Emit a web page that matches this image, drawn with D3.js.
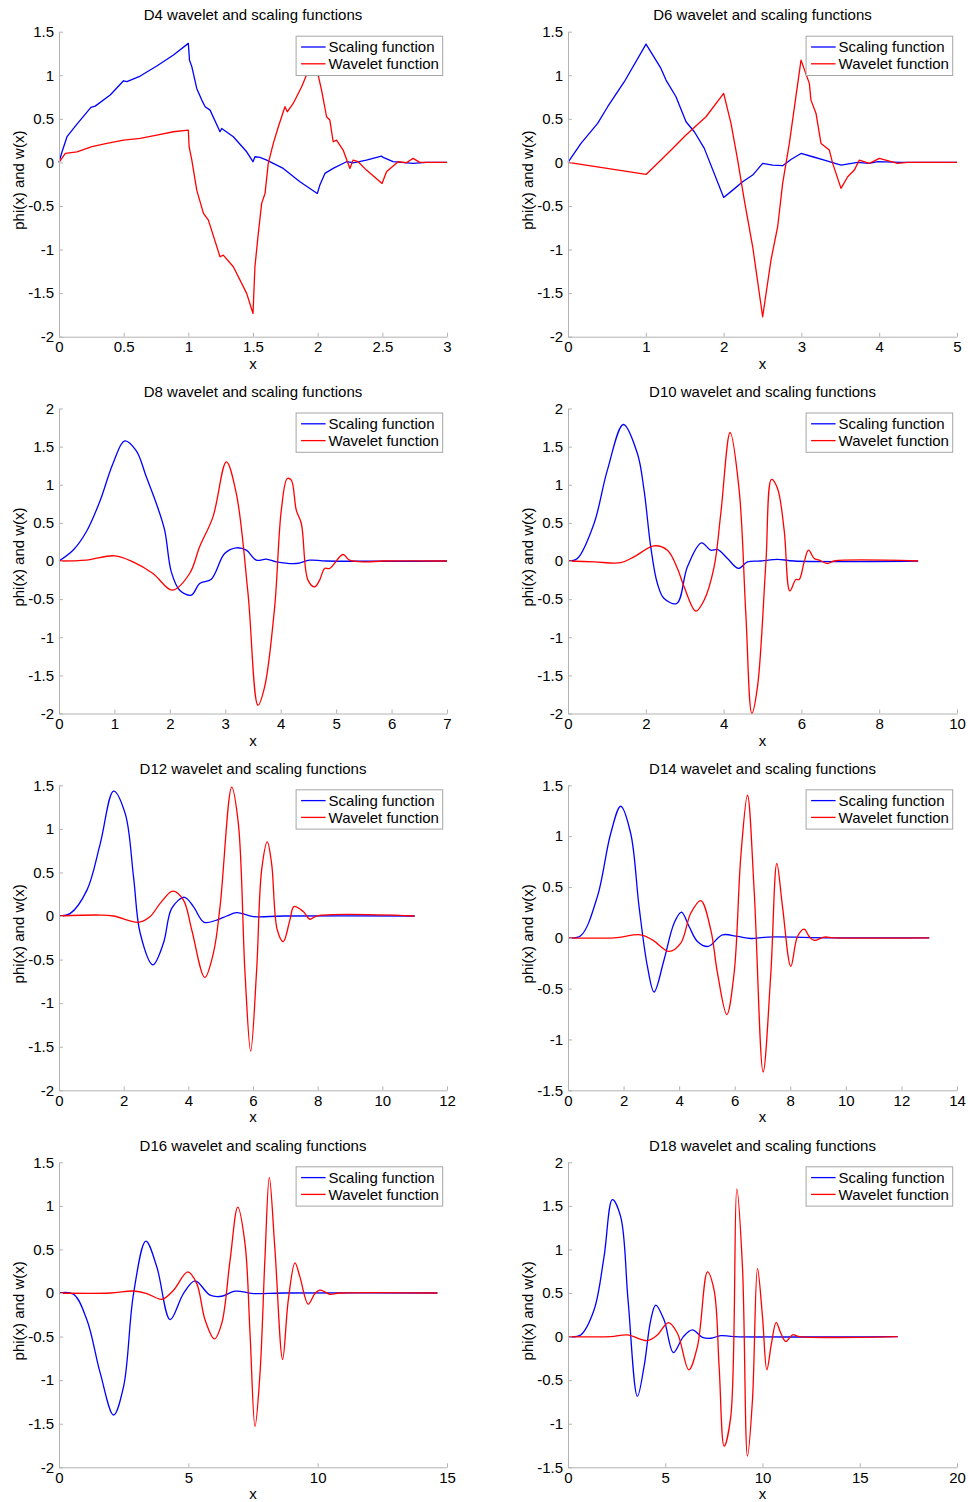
<!DOCTYPE html>
<html>
<head>
<meta charset="utf-8">
<script src="https://cdn.jsdelivr.net/npm/d3@7"></script>
<style>
  html, body { margin: 0; padding: 0; background: #fff; }
  svg { display: block; }
  text { font-family: "Liberation Sans", Arial, sans-serif; fill: #000; }
</style>
</head>
<body>
<svg id="chart" width="968" height="1502"></svg>
<script>
// Daubechies scaling (phi) and wavelet (w) functions, sampled as [x, value] pairs.

const d4Scaling = [[0,0],[0.023,0.12],[0.062,0.295],[0.139,0.44],[0.247,0.631],[0.28,0.646],[0.396,0.773],[0.499,0.937],[0.525,0.926],[0.628,0.991],[0.756,1.106],[0.885,1.232],[1.0,1.366],[1.009,1.174],[1.027,1.098],[1.065,0.849],[1.104,0.715],[1.13,0.639],[1.168,0.6],[1.245,0.352],[1.258,0.39],[1.348,0.295],[1.451,0.122],[1.5,0.008],[1.515,0.065],[1.554,0.057],[1.606,0.027],[1.734,-0.069],[1.863,-0.222],[1.997,-0.356],[2.017,-0.26],[2.056,-0.126],[2.12,-0.069],[2.223,0.008],[2.274,-0.004],[2.377,0.027],[2.493,0.073],[2.506,0.057],[2.583,0.008],[2.738,-0.011],[2.84,0],[3,0]];
const d4Wavelet = [[0,0],[0.049,0.103],[0.139,0.122],[0.255,0.18],[0.37,0.218],[0.499,0.256],[0.628,0.275],[0.756,0.314],[0.885,0.352],[1.0,0.371],[1.006,0.18],[1.027,0.027],[1.065,-0.318],[1.117,-0.585],[1.155,-0.662],[1.245,-1.083],[1.27,-1.064],[1.348,-1.197],[1.451,-1.503],[1.5,-1.733],[1.515,-1.197],[1.541,-0.815],[1.567,-0.47],[1.593,-0.356],[1.618,-0.011],[1.657,0.218],[1.696,0.409],[1.747,0.639],[1.765,0.581],[1.811,0.677],[1.876,0.868],[1.914,1.002],[1.99,1.366],[2.004,1.002],[2.03,0.83],[2.069,0.524],[2.094,0.486],[2.12,0.237],[2.146,0.256],[2.197,0.142],[2.249,-0.069],[2.274,0.027],[2.313,0.008],[2.377,-0.088],[2.498,-0.241],[2.532,-0.107],[2.622,0.008],[2.686,-0.004],[2.738,0.046],[2.789,0],[3,0]];

const d6Scaling = [[0,0],[0.167,0.218],[0.381,0.448],[0.51,0.639],[0.724,0.926],[1.003,1.358],[1.195,1.079],[1.26,0.945],[1.388,0.754],[1.517,0.467],[1.624,0.352],[1.752,0.161],[2.001,-0.402],[2.117,-0.318],[2.245,-0.222],[2.374,-0.145],[2.502,-0.011],[2.631,-0.031],[2.759,-0.038],[2.866,0.034],[2.995,0.103],[3.145,0.065],[3.295,0.027],[3.509,-0.031],[3.723,0],[3.873,-0.011],[3.98,0.008],[4.28,0],[5,0]];
const d6Wavelet = [[0,0],[1.003,-0.138],[1.195,0.027],[1.367,0.18],[1.517,0.314],[1.774,0.524],[2.001,0.792],[2.095,0.448],[2.181,0.027],[2.266,-0.432],[2.374,-0.968],[2.502,-1.771],[2.609,-1.121],[2.695,-0.738],[2.759,-0.241],[2.845,0.218],[2.995,1.174],[3.102,0.907],[3.123,0.715],[3.188,0.562],[3.252,0.218],[3.359,0.142],[3.402,-0.011],[3.509,-0.298],[3.595,-0.164],[3.68,-0.088],[3.745,0.027],[3.873,-0.011],[4.002,0.046],[4.237,-0.011],[4.366,0],[5,0]];

const d8Scaling = [[0,0],[0.253,0.14],[0.493,0.383],[0.734,0.776],[0.974,1.279],[1.185,1.576],[1.395,1.445],[1.575,1.104],[1.756,0.754],[1.906,0.404],[2.026,-0.142],[2.177,-0.383],[2.387,-0.448],[2.537,-0.295],[2.748,-0.238],[2.988,0.098],[3.199,0.173],[3.379,0.142],[3.56,0.011],[3.74,0.024],[3.92,-0.011],[4.281,-0.033],[4.522,0.011],[4.823,0],[7,0]];
const d8Wavelet = [[0,0],[0.493,0.011],[1.004,0.068],[1.335,-0.011],[1.696,-0.164],[2.045,-0.383],[2.357,-0.164],[2.537,0.186],[2.778,0.579],[3.019,1.301],[3.199,0.885],[3.41,-0.426],[3.59,-1.891],[3.71,-1.65],[3.891,-0.601],[4.011,0.667],[4.119,1.082],[4.191,1.06],[4.281,0.667],[4.372,0.492],[4.492,-0.251],[4.612,-0.339],[4.702,-0.251],[4.792,-0.098],[4.883,-0.098],[5.123,0.085],[5.243,0.011],[5.544,-0.011],[5.845,0],[7,0]];

const d10Scaling = [[0,0],[0.24,0.033],[0.669,0.492],[1.012,1.191],[1.424,1.79],[1.784,1.41],[1.955,0.929],[2.127,0.186],[2.298,-0.295],[2.47,-0.492],[2.796,-0.557],[3.07,-0.076],[3.43,0.238],[3.671,0.142],[3.842,0.151],[4.1,0.033],[4.383,-0.098],[4.614,-0.011],[4.957,0],[5.386,0.022],[5.815,0],[9,0]];
const d10Wavelet = [[0,0],[0.669,-0.011],[1.355,-0.022],[1.698,0.055],[2.213,0.199],[2.556,0.142],[2.813,-0.098],[2.985,-0.339],[3.285,-0.658],[3.499,-0.514],[3.756,-0.077],[3.928,0.623],[4.168,1.685],[4.4,0.929],[4.571,-0.689],[4.726,-2.0],[4.871,-1.65],[5.086,-0.033],[5.232,1.069],[5.386,0.951],[5.557,0.404],[5.703,-0.393],[5.858,-0.243],[5.943,-0.243],[6.072,-0.011],[6.183,0.142],[6.329,0.033],[6.458,0.011],[6.672,-0.033],[6.844,0],[9,0]];

const d12Scaling = [[0,0],[0.35,0.03],[0.864,0.297],[1.276,0.831],[1.688,1.434],[2.048,1.175],[2.305,0.45],[2.511,-0.198],[2.902,-0.56],[3.231,-0.31],[3.489,0.09],[3.88,0.215],[4.158,0.108],[4.487,-0.072],[4.878,-0.046],[5.187,0],[5.496,0.038],[6.01,-0.006],[6.936,0],[11,0]];
const d12Wavelet = [[0,0],[1.276,0.011],[1.688,0],[2.46,-0.072],[2.82,-0.006],[3.128,0.145],[3.52,0.286],[3.849,0.183],[4.106,-0.16],[4.508,-0.705],[4.775,-0.426],[4.981,0.107],[5.341,1.479],[5.547,1.06],[5.753,-0.656],[5.928,-1.55],[6.113,-0.617],[6.267,0.526],[6.442,0.85],[6.576,0.602],[6.751,-0.16],[6.936,-0.293],[7.142,-0.044],[7.266,0.108],[7.554,0.051],[7.76,-0.037],[7.965,0],[11,0]];

const d14Scaling = [[0,0],[0.456,0.02],[1.057,0.405],[1.537,1.026],[1.897,1.294],[2.257,1.026],[2.557,0.307],[2.858,-0.281],[3.098,-0.533],[3.458,-0.216],[3.818,0.144],[4.082,0.252],[4.358,0.111],[4.658,-0.036],[5.043,-0.085],[5.559,0.029],[6.099,0.013],[6.58,-0.007],[7.18,0.007],[9.46,0],[13,0]];
const d14Wavelet = [[0,0],[1.657,0],[2.617,0.029],[3.038,-0.02],[3.638,-0.134],[4.058,-0.052],[4.418,0.242],[4.778,0.366],[5.139,0.078],[5.379,-0.346],[5.715,-0.755],[5.979,-0.346],[6.219,0.797],[6.459,1.402],[6.699,0.471],[7.023,-1.32],[7.3,-0.346],[7.516,0.732],[7.72,0.307],[8.02,-0.281],[8.26,0.013],[8.5,0.085],[8.68,0.013],[8.86,-0.026],[9.22,0.007],[9.58,0],[13,0]];

const d16Scaling = [[0,0],[0.566,-0.015],[1.081,-0.31],[1.595,-0.92],[2.11,-1.4],[2.496,-1.075],[2.882,-0.006],[3.358,0.596],[3.782,0.299],[4.297,-0.305],[4.811,-0.006],[5.262,0.139],[5.841,-0.025],[6.291,-0.037],[6.806,0.021],[7.513,-0.006],[8.671,0],[14.63,0]];
const d16Wavelet = [[0,0],[1.98,0],[2.882,0.023],[3.396,-0.006],[3.975,-0.072],[4.426,0.032],[4.979,0.242],[5.326,0.108],[5.648,-0.31],[6.008,-0.527],[6.291,-0.348],[6.613,0.375],[6.909,0.985],[7.192,0.564],[7.385,-0.464],[7.578,-1.532],[7.771,-0.921],[7.964,0.413],[8.131,1.327],[8.35,0.49],[8.645,-0.761],[8.864,-0.082],[9.122,0.345],[9.314,0.185],[9.636,-0.128],[9.893,-0.006],[10.086,0.032],[10.279,0.013],[10.47,-0.014],[10.86,0],[14.63,0]];

const d18Scaling = [[0,0],[0.652,0.019],[1.338,0.305],[1.852,0.915],[2.281,1.571],[2.71,1.373],[3.087,0.42],[3.568,-0.686],[3.911,-0.343],[4.254,0.19],[4.511,0.362],[4.94,0.19],[5.42,-0.183],[5.935,0],[6.398,0.076],[6.913,-0.008],[7.341,-0.019],[7.856,0.011],[8.542,0],[16.95,0]];
const d18Wavelet = [[0,0],[2.196,0],[3.053,0.019],[4.082,-0.046],[4.597,0.019],[5.163,0.16],[5.626,0.038],[6.209,-0.381],[6.655,-0.114],[7.17,0.743],[7.513,0.53],[7.77,-0.343],[8.027,-1.258],[8.37,-0.915],[8.679,1.693],[8.97,0.8],[9.228,-1.372],[9.485,-0.724],[9.743,0.781],[10.0,0.227],[10.223,-0.381],[10.463,-0.076],[10.703,0.164],[10.943,0.038],[11.2,-0.057],[11.544,0.021],[11.887,0],[16.95,0]];

// Axis ranges and tick labels for each panel
const titles = ["D4", "D6", "D8", "D10", "D12", "D14", "D16", "D18"];
const xDomains = [[0, 3], [0, 5], [0, 7], [0, 10], [0, 12], [0, 14], [0, 15], [0, 20]];
const yDomains = [[-2, 1.5], [-2, 1.5], [-2, 2], [-2, 2], [-2, 1.5], [-1.5, 1.5], [-2, 1.5], [-1.5, 2]];
const xTicks = [
  [0, 0.5, 1, 1.5, 2, 2.5, 3],
  [0, 1, 2, 3, 4, 5],
  [0, 1, 2, 3, 4, 5, 6, 7],
  [0, 2, 4, 6, 8, 10],
  [0, 2, 4, 6, 8, 10, 12],
  [0, 2, 4, 6, 8, 10, 12, 14],
  [0, 5, 10, 15],
  [0, 5, 10, 15, 20]
];
const yTicks = [
  [-2, -1.5, -1, -0.5, 0, 0.5, 1, 1.5],
  [-2, -1.5, -1, -0.5, 0, 0.5, 1, 1.5],
  [-2, -1.5, -1, -0.5, 0, 0.5, 1, 1.5, 2],
  [-2, -1.5, -1, -0.5, 0, 0.5, 1, 1.5, 2],
  [-2, -1.5, -1, -0.5, 0, 0.5, 1, 1.5],
  [-1.5, -1, -0.5, 0, 0.5, 1, 1.5],
  [-2, -1.5, -1, -0.5, 0, 0.5, 1, 1.5],
  [-1.5, -1, -0.5, 0, 0.5, 1, 1.5, 2]
];
const scalingSeries = [d4Scaling, d6Scaling, d8Scaling, d10Scaling, d12Scaling, d14Scaling, d16Scaling, d18Scaling];
const waveletSeries = [d4Wavelet, d6Wavelet, d8Wavelet, d10Wavelet, d12Wavelet, d14Wavelet, d16Wavelet, d18Wavelet];
const legendLabels = ["Scaling function", "Wavelet function"];
const seriesColors = ["#0000ff", "#ff0000"];

const svg = d3.select("#chart");
const fmt = d => String(d);

const colLeft = [59, 568];
const plotW = [388, 389];
const rowTop = [31.7, 408.5, 785.3, 1162.3];
const plotH = 305;
const axisGray = "#b3b3b3";

titles.forEach((name, i) => {
  const col = i % 2, row = Math.floor(i / 2);
  const left = colLeft[col], top = rowTop[row];
  const w = plotW[col], h = plotH;

  const x = d3.scaleLinear().domain(xDomains[i]).range([0, w]);
  const y = d3.scaleLinear().domain(yDomains[i]).range([h, 0]);

  const g = svg.append("g").attr("transform", `translate(${left},${top})`);

  // curves: jagged D4/D6 drawn straight between samples, the rest smoothed
  const curve = i < 2 ? d3.curveLinear : d3.curveCatmullRom.alpha(0.5);
  const line = d3.line().x(d => x(d[0])).y(d => y(d[1])).curve(curve);

  [scalingSeries[i], waveletSeries[i]].forEach((data, k) => {
    g.append("path")
      .datum(data)
      .attr("d", line)
      .attr("fill", "none")
      .attr("stroke", seriesColors[k])
      .attr("stroke-width", 1.3)
      .attr("stroke-linejoin", "round");
  });

  // axes with inward ticks
  const xAxis = d3.axisBottom(x).tickValues(xTicks[i]).tickFormat(fmt).tickSizeInner(-4).tickSizeOuter(0).tickPadding(5);
  const yAxis = d3.axisLeft(y).tickValues(yTicks[i]).tickFormat(fmt).tickSizeInner(-4).tickSizeOuter(0).tickPadding(5);

  const gx = g.append("g").attr("transform", `translate(0,${h})`).call(xAxis);
  const gy = g.append("g").call(yAxis);
  [gx, gy].forEach(a => {
    a.select(".domain").attr("stroke", axisGray);
    a.selectAll(".tick line").attr("stroke", axisGray);
    a.selectAll(".tick text").attr("fill", "#000").style("font-size", "15px")
      .style("font-family", '"Liberation Sans", Arial, sans-serif');
  });
  gx.selectAll(".tick text").attr("dy", "0.71em");

  // title and axis labels
  g.append("text").attr("x", w / 2).attr("y", -11.5)
    .attr("text-anchor", "middle").style("font-size", "15px")
    .text(`${name} wavelet and scaling functions`);
  g.append("text").attr("x", w / 2).attr("y", h + 32)
    .attr("text-anchor", "middle").style("font-size", "15px").text("x");
  g.append("text")
    .attr("transform", `translate(-35.5,${h / 2 - 4}) rotate(-90)`)
    .attr("text-anchor", "middle").style("font-size", "15px")
    .text("phi(x) and w(x)");

  // legend box in the upper right corner
  const lw = 146.6, lh = 39.3;
  const lg = g.append("g").attr("transform", `translate(${w - 4.3 - lw},4.5)`);
  lg.append("rect").attr("width", lw).attr("height", lh)
    .attr("fill", "#fff").attr("stroke", "#a6a6a6").attr("stroke-width", 1);
  legendLabels.forEach((lab, k) => {
    const yy = 10.8 + k * 16.8;
    lg.append("line").attr("x1", 5).attr("x2", 29.5).attr("y1", yy).attr("y2", yy)
      .attr("stroke", seriesColors[k]).attr("stroke-width", 1.3);
    lg.append("text").attr("x", 32.5).attr("y", yy + 5.3)
      .style("font-size", "15px").text(lab);
  });
});
</script>
</body>
</html>
